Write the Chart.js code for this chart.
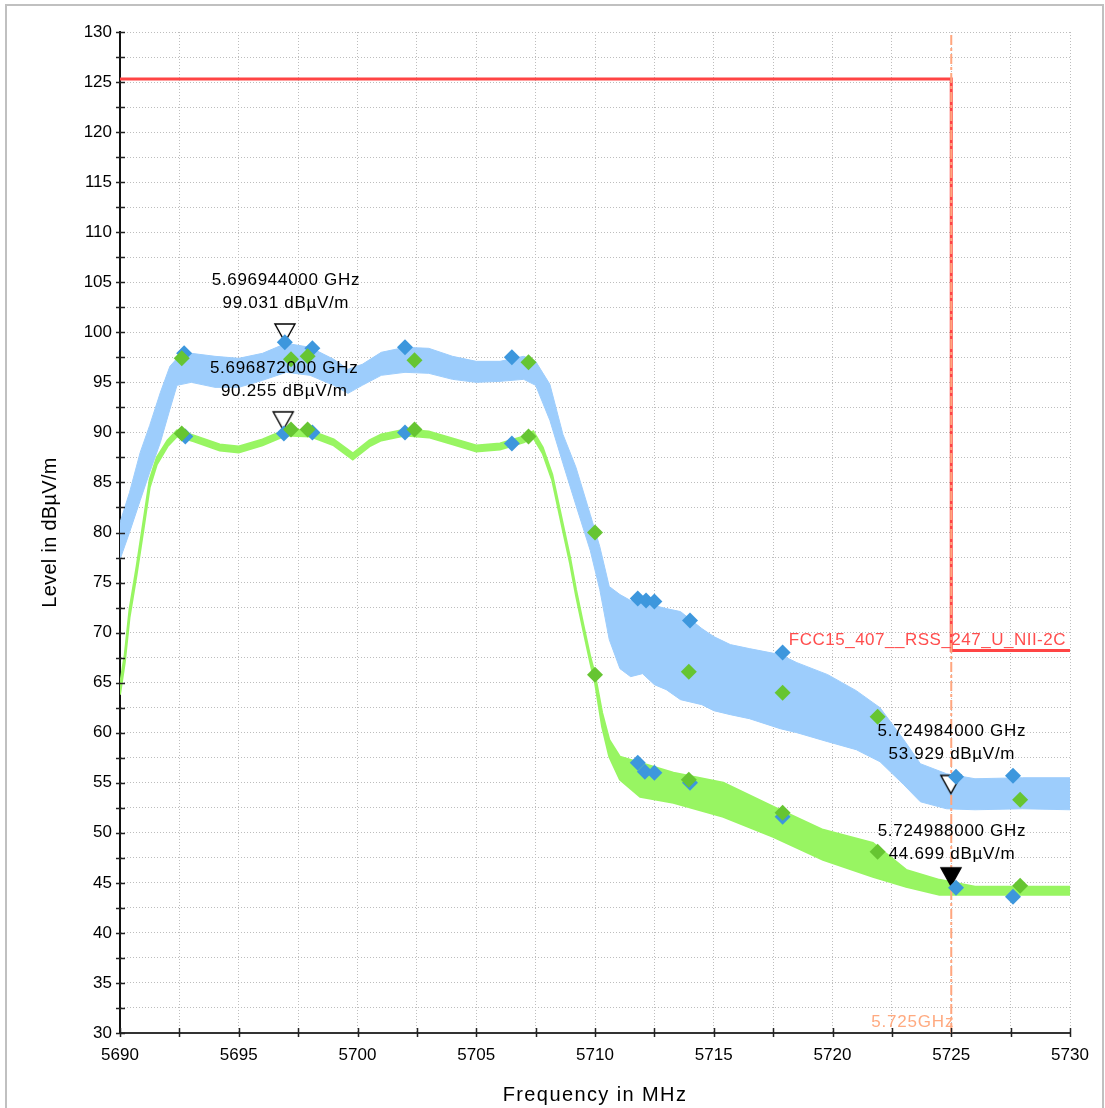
<!DOCTYPE html>
<html>
<head>
<meta charset="utf-8">
<script src="https://cdn.jsdelivr.net/npm/chart.js@4.4.1/dist/chart.umd.min.js"></script>
<style>
  html, body { margin: 0; padding: 0; background: #fff; }
  #wrap { position: relative; width: 1105px; height: 1108px; }
</style>
</head>
<body>
<div id="wrap"><canvas id="chart" width="1105" height="1108"></canvas></div>
<script>
// blue trace (max peak) - upper / lower edge of the noisy band
const freqBlue = [5690.0, 5690.4, 5690.85, 5691.25, 5691.7, 5692.1, 5692.4, 5693.0, 5694.0, 5695.0,
    5696.0, 5697.0, 5698.0, 5699.0, 5699.6, 5700.2, 5701.0, 5702.0, 5703.0, 5704.0,
    5705.0, 5706.0, 5707.0, 5707.5, 5708.1, 5708.65, 5709.2, 5709.8, 5710.2, 5710.6,
    5711.05, 5711.5, 5712.0, 5712.5, 5713.0, 5713.6, 5714.5, 5715.0, 5715.7, 5716.5,
    5717.8, 5718.5, 5719.8, 5721.0, 5722.0, 5723.0, 5723.7, 5724.8, 5726.0, 5728.0, 5730.0];
const blueUpper = [81.0, 84.0, 88.0, 90.7, 94.0, 96.6, 97.4, 97.9, 97.6, 97.4,
    97.9, 98.9, 98.5, 97.3, 96.3, 96.8, 98.0, 98.5, 98.4, 97.6,
    97.1, 97.1, 97.6, 97.1, 94.8, 89.8, 86.5, 81.8, 78.6, 74.6,
    73.8, 73.2, 73.0, 72.7, 72.4, 72.1, 70.4, 69.6, 68.8, 68.4,
    67.8, 67.0, 65.8, 64.2, 62.5, 59.3, 56.9, 55.9, 55.4, 55.5, 55.5];
const blueLower = [77.3, 80.0, 83.2, 86.0, 89.0, 92.3, 94.7, 95.0, 94.5, 94.5,
    95.2, 96.0, 95.7, 94.7, 93.9, 94.7, 95.7, 96.0, 95.9, 95.3,
    95.0, 95.1, 95.3, 94.7, 91.2, 86.9, 82.7, 78.2, 74.3, 69.3,
    66.4, 65.6, 65.9, 64.8, 64.3, 63.3, 62.8, 62.2, 61.8, 61.4,
    60.4, 60.0, 59.1, 58.3, 57.1, 54.8, 53.1, 52.4, 52.3, 52.4, 52.3];

// green trace (average)
const freqGreen = [5690.0, 5690.2, 5690.4, 5690.7, 5691.0, 5691.25, 5691.55, 5692.0, 5692.4, 5693.1,
    5694.2, 5695.0, 5696.0, 5697.0, 5698.0, 5699.0, 5699.8, 5700.5, 5701.0, 5702.0,
    5703.0, 5704.0, 5705.0, 5706.0, 5707.0, 5707.4, 5707.8, 5708.2, 5708.65, 5708.95,
    5709.2, 5709.5, 5709.8, 5710.0, 5710.3, 5710.6, 5711.05, 5711.9, 5713.3, 5715.4, 5717.5,
    5719.6, 5721.7, 5723.1, 5724.5, 5726.0, 5730.0];
const greenUpper = [64.8, 67.8, 72.3, 76.6, 81.3, 85.3, 87.5, 89.2, 90.2, 89.7,
    88.8, 88.6, 89.3, 90.3, 90.2, 89.3, 87.9, 89.2, 89.8, 90.3,
    90.1, 89.4, 88.7, 88.9, 89.6, 90.1, 88.5, 85.8, 80.8, 77.5,
    74.3, 70.9, 67.6, 65.8, 62.0, 59.3, 57.6, 57.0, 56.0, 55.0, 52.6,
    50.3, 49.0, 46.3, 45.3, 44.6, 44.6];
const greenLower = [63.8, 67.0, 71.5, 75.8, 80.5, 84.5, 86.8, 88.6, 89.6, 89.1,
    88.2, 88.0, 88.7, 89.7, 89.6, 88.7, 87.3, 88.6, 89.2, 89.7,
    89.5, 88.8, 88.1, 88.3, 89.0, 89.5, 87.9, 85.2, 80.2, 76.9,
    73.7, 70.3, 67.0, 65.0, 60.6, 57.6, 55.3, 53.6, 53.0, 51.6, 49.6,
    47.3, 45.6, 44.6, 43.8, 43.8, 43.8];

// limit line FCC15_407__RSS_247_U_NII-2C
const limitFreq = [5690, 5725, 5725, 5730];
const limitLevel = [125.3, 125.3, 68.2, 68.2];
const limitName = "FCC15_407__RSS_247_U_NII-2C";

// band edge
const edgeFreq = 5725;
const edgeName = "5.725GHz";

// final measurement points (diamonds)
const blueMarkFreq = [5692.7, 5696.94, 5698.1, 5702.0, 5706.5, 5711.8, 5712.15, 5712.5, 5714.0, 5717.9, 5725.2, 5727.6,
    5692.75, 5696.9, 5698.1, 5702.0, 5706.5, 5711.8, 5712.1, 5712.5, 5714.0, 5717.9, 5725.2, 5727.6];
const blueMarkLevel = [97.9, 99.0, 98.4, 98.5, 97.5, 73.4, 73.2, 73.1, 71.2, 68.0, 55.6, 55.7,
    89.6, 89.9, 90.0, 90.0, 88.9, 57.0, 56.1, 56.0, 55.0, 51.6, 44.5, 43.6];
const greenMarkFreq = [5692.6, 5697.2, 5697.9, 5702.4, 5707.2, 5710.0, 5713.95, 5717.9, 5721.9, 5727.9,
    5692.6, 5697.2, 5697.9, 5702.4, 5707.2, 5710.0, 5713.95, 5717.9, 5721.9, 5727.9];
const greenMarkLevel = [97.4, 97.3, 97.6, 97.2, 97.0, 80.0, 66.1, 64.0, 61.6, 53.3,
    89.9, 90.3, 90.3, 90.3, 89.6, 65.8, 55.3, 52.0, 48.1, 44.7];

// peak markers
const peakFreq = [5696.944, 5696.872, 5724.984, 5724.988];
const peakLevel = [99.031, 90.255, 53.929, 44.699];
const peakFilled = [false, false, false, true];

const FONT = "'Liberation Sans', Arial, sans-serif";
const pts = (xs, ys) => xs.map((x, i) => ({ x: x, y: ys[i] }));

function makeTriangle(filled) {
    const c = document.createElement("canvas");
    c.width = 24; c.height = 40;
    const g = c.getContext("2d");
    g.beginPath();
    g.moveTo(2, 2); g.lineTo(22, 2); g.lineTo(12, 20);
    g.closePath();
    g.fillStyle = filled ? "#000" : "#fff";
    g.fill();
    g.lineWidth = 1.4;
    g.strokeStyle = "#000";
    g.stroke();
    return c;
}
const triangles = [makeTriangle(false), makeTriangle(true)];

const labelLift = [62, 62, 62, 55];

const decorPlugin = {
    id: "decor",
    afterDatasetsDraw(chart) {
        const { ctx, scales: { x, y } } = chart;
        ctx.save();
        ctx.font = "17px " + FONT;
        ctx.letterSpacing = "0.7px";
        ctx.fillStyle = "#000";
        ctx.textAlign = "center";
        ctx.textBaseline = "middle";
        peakFreq.forEach((f, i) => {
            const px = x.getPixelForValue(f);
            const py = y.getPixelForValue(peakLevel[i]);
            ctx.fillText((f / 1000).toFixed(9) + " GHz", px + 1, py - labelLift[i]);
            ctx.fillText(peakLevel[i].toFixed(3) + " dBµV/m", px + 1, py - labelLift[i] + 23);
        });
        // limit name
        ctx.letterSpacing = "0.5px";
        ctx.fillStyle = "#ff4d4d";
        ctx.textAlign = "right";
        ctx.fillText(limitName, x.getPixelForValue(5730) - 4, y.getPixelForValue(limitLevel[3]) - 10);
        // band edge name
        ctx.letterSpacing = "0.8px";
        ctx.fillStyle = "#ffaa80";
        ctx.fillText(edgeName, x.getPixelForValue(edgeFreq) + 3, y.getPixelForValue(30) - 11);
        ctx.restore();
    },
    afterDraw(chart) {
        const { ctx, scales: { x, y }, chartArea: a } = chart;
        ctx.save();
        ctx.strokeStyle = "#222";
        ctx.lineWidth = 1.5;
        ctx.beginPath();
        y.ticks.forEach(t => {
            const py = Math.round(y.getPixelForValue(t.value)) + 0.5;
            ctx.moveTo(a.left - 4, py); ctx.lineTo(a.left + 5, py);
        });
        x.ticks.forEach(t => {
            const px = Math.round(x.getPixelForValue(t.value)) + 0.5;
            ctx.moveTo(px, a.bottom - 5); ctx.lineTo(px, a.bottom + 4);
        });
        ctx.stroke();

        // axis titles
        ctx.fillStyle = "#000";
        ctx.font = "20px " + FONT;
        ctx.textAlign = "center";
        ctx.textBaseline = "middle";
        ctx.letterSpacing = "1.4px";
        ctx.fillText("Frequency in MHz", (a.left + a.right) / 2, 1095);
        ctx.letterSpacing = "0.3px";
        ctx.translate(50, (a.top + a.bottom) / 2);
        ctx.rotate(-Math.PI / 2);
        ctx.fillText("Level in dBµV/m", 0, 0);
        ctx.restore();

        // frame
        ctx.save();
        ctx.strokeStyle = "#c0c0c0";
        ctx.lineWidth = 2;
        ctx.beginPath();
        ctx.moveTo(6, 1108); ctx.lineTo(6, 5); ctx.lineTo(1103, 5); ctx.lineTo(1103, 1108);
        ctx.stroke();
        ctx.restore();
    }
};

new Chart(document.getElementById("chart"), {
    type: "line",
    data: {
        datasets: [
            { data: pts(greenMarkFreq, greenMarkLevel), showLine: false, pointStyle: "rectRot", pointRadius: 8,
              pointBackgroundColor: "#66c532", pointBorderWidth: 0, order: 1 },
            { data: pts(blueMarkFreq, blueMarkLevel), showLine: false, pointStyle: "rectRot", pointRadius: 8,
              pointBackgroundColor: "#3d97dd", pointBorderWidth: 0, order: 2 },
            { data: pts(peakFreq, peakLevel), showLine: false, pointRadius: 10,
              pointStyle: c => triangles[peakFilled[c.dataIndex] ? 1 : 0], order: 3 },
            { data: [{ x: edgeFreq, y: 30 }, { x: edgeFreq, y: 130 }], borderColor: "#ffa67f", borderWidth: 2,
              borderDash: [10, 3, 3, 3], pointRadius: 0, order: 4 },
            { data: pts(limitFreq, limitLevel), borderColor: "#ff4444", borderWidth: 3, pointRadius: 0, order: 5 },
            { data: pts(freqGreen, greenUpper), borderColor: "#98f562", backgroundColor: "#98f562", borderWidth: 2,
              pointRadius: 0, fill: "+1", order: 6 },
            { data: pts(freqGreen, greenLower), borderColor: "#98f562", borderWidth: 2, pointRadius: 0, fill: false, order: 7 },
            { data: pts(freqBlue, blueUpper), borderColor: "#9dcdfc", backgroundColor: "#9dcdfc", borderWidth: 1,
              pointRadius: 0, fill: "+1", order: 8 },
            { data: pts(freqBlue, blueLower), borderColor: "#9dcdfc", borderWidth: 1, pointRadius: 0, fill: false, order: 9 }
        ]
    },
    options: {
        responsive: false,
        animation: false,
        layout: { padding: { left: 0, top: 32, right: 35, bottom: 0 } },
        plugins: { legend: { display: false }, tooltip: { enabled: false } },
        elements: { line: { tension: 0 } },
        scales: {
            x: {
                type: "linear", min: 5690, max: 5730,
                afterFit: s => { s.height = 75; },
                ticks: {
                    stepSize: 2.5, autoSkip: false, maxRotation: 0, padding: 12,
                    color: "#000", font: { family: FONT, size: 17 },
                    callback: v => (v % 5 === 0 ? String(v) : "")
                },
                grid: { color: "#bdbdbd", lineWidth: 1, drawTicks: false },
                border: { display: true, color: "#333", width: 2, dash: [1, 2] }
            },
            y: {
                min: 30, max: 130,
                afterFit: s => { s.width = 120; },
                ticks: {
                    stepSize: 2.5, autoSkip: false, padding: 8,
                    color: "#000", font: { family: FONT, size: 17 },
                    callback: v => (v % 5 === 0 ? String(v) : "")
                },
                grid: { color: "#bdbdbd", lineWidth: 1, drawTicks: false },
                border: { display: true, color: "#111", width: 2, dash: [1, 2] }
            }
        }
    },
    plugins: [decorPlugin]
});
</script>
</body>
</html>
